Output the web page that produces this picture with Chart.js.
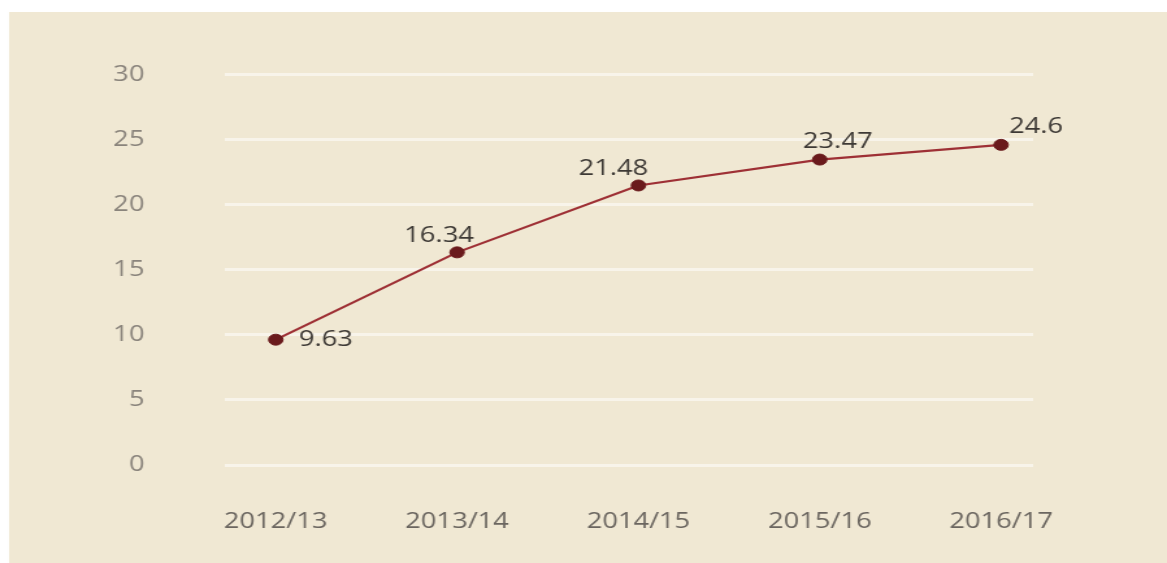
<!DOCTYPE html>
<html>
<head>
<meta charset="utf-8">
<script src="https://cdn.jsdelivr.net/npm/chart.js@4/dist/chart.umd.min.js"></script>
<style>
html,body{margin:0;padding:0;background:#ffffff;overflow:hidden;}
#wrap{position:relative;width:1167px;height:563px;}
#c{display:block;width:1167px;height:563px;}
</style>
</head>
<body>
<div id="wrap"><canvas id="c" width="898" height="563" style="width:1167px;height:563px"></canvas></div>
<script>
const categories = ["2012/13", "2013/14", "2014/15", "2015/16", "2016/17"];
const values = [9.63, 16.34, 21.48, 23.47, 24.6];
const valueLabels = ["9.63", "16.34", "21.48", "23.47", "24.6"];
const yTicks = [0, 5, 10, 15, 20, 25, 30];

// The reference is horizontally stretched; the canvas is drawn narrower and stretched by CSS.
const SX = 1167 / 898;

// label offsets (style only, in output pixels)
const labelOffsets = [
  {dx: 23, dy: 0, align: 'left'},
  {dx: -18, dy: -16, align: 'center'},
  {dx: -25, dy: -16, align: 'center'},
  {dx: 18, dy: -18, align: 'center'},
  {dx: 35, dy: -18, align: 'center'}
];

const bgPlugin = {
  id: 'bg',
  beforeDraw(chart) {
    const ctx = chart.ctx;
    ctx.save();
    ctx.fillStyle = '#ffffff';
    ctx.fillRect(0, 0, chart.width, chart.height);
    ctx.fillStyle = '#f0e8d3';
    ctx.fillRect(9 / SX, 12, chart.width, chart.height - 12);
    ctx.restore();
  }
};

const labelPlugin = {
  id: 'vlabels',
  afterDatasetsDraw(chart) {
    const ctx = chart.ctx;
    const meta = chart.getDatasetMeta(0);
    ctx.save();
    ctx.font = '21px "Open Sans"';
    ctx.fillStyle = '#3d3935';
    ctx.textBaseline = 'middle';
    meta.data.forEach((pt, i) => {
      const o = labelOffsets[i];
      ctx.textAlign = o.align;
      ctx.fillText(valueLabels[i], pt.x + o.dx / SX, pt.y + o.dy);
    });
    ctx.restore();
  }
};

const chart = new Chart(document.getElementById('c'), {
  type: 'line',
  data: {
    datasets: [{
      data: values.map((v, i) => ({x: i, y: v})),
      borderColor: '#9e3035',
      borderWidth: 2.2,
      pointBackgroundColor: '#6a1a1c',
      pointBorderColor: '#6a1a1c',
      pointRadius: 5.5,
      pointBorderWidth: 1,
      tension: 0,
      fill: false
    }]
  },
  options: {
    responsive: false,
    animation: false,
    devicePixelRatio: 1,
    events: [],
    layout: {padding: {top: 60, right: Math.round(898 - 1033 / SX), left: 0, bottom: 0}},
    plugins: {legend: {display: false}, tooltip: {enabled: false}},
    scales: {
      x: {
        type: 'linear',
        min: -0.28,
        max: 4.177,
        afterBuildTicks(s) { s.ticks = categories.map((c, i) => ({value: i})); },
        afterFit(s) { s.height = 98; },
        grid: {display: false, drawTicks: false},
        border: {display: false},
        ticks: {
          padding: 44,
          color: '#6b6660',
          font: {family: 'Open Sans', size: 21},
          callback: (v) => categories[v],
          maxRotation: 0,
          autoSkip: false
        }
      },
      y: {
        min: 0,
        max: 30,
        afterBuildTicks(s) { s.ticks = yTicks.map(v => ({value: v})); },
        afterFit(s) { s.width = 225 / SX; },
        grid: {color: '#f8f4ea', lineWidth: 3, drawTicks: false},
        border: {display: false},
        ticks: {
          padding: 62,
          color: '#8a847c',
          font: {family: 'Open Sans', size: 21}
        }
      }
    }
  },
  plugins: [bgPlugin, labelPlugin]
});
const cv = document.getElementById('c');
cv.style.width = '1167px';
cv.style.height = '563px';
</script>
</body>
</html>
